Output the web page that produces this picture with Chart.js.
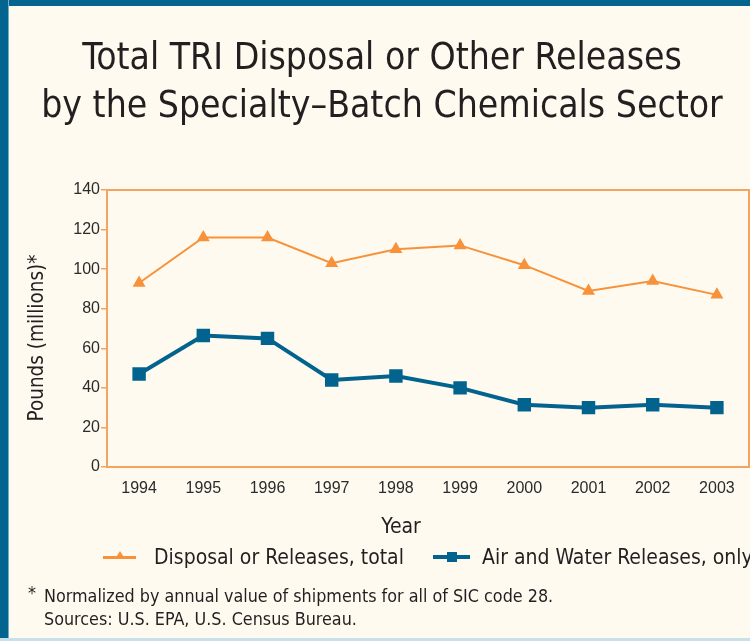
<!DOCTYPE html>
<html>
<head>
<meta charset="utf-8">
<script src="https://cdn.jsdelivr.net/npm/chart.js@4.4.1/dist/chart.umd.min.js"></script>
<style>
  html, body { margin: 0; padding: 0; }
  body { width: 750px; height: 641px; position: relative; overflow: hidden; background: #fefaef; }
  #chart { position: absolute; left: 0; top: 0; }
  .narrow { font-family: "Liberation Sans Narrow", "DejaVu Sans Condensed", sans-serif; color: #231f20; position: absolute; white-space: nowrap; }
  #title { left: 8px; width: 748px; top: 33px; text-align: center; font-size: 37px; line-height: 48px; }
  #ytitle { left: 36px; top: 338px; font-size: 20.5px; transform: translate(-50%, -50%) rotate(-90deg); }
  #xtitle { left: 401px; top: 526px; font-size: 21px; transform: translate(-50%, -50%); }
  #legend { top: 544px; left: 103px; font-size: 21px; line-height: 26px; }
  .item { position: absolute; top: 0; }
  .sw { position: absolute; top: 13px; }
  .sw .ln { position: absolute; }
  .note { left: 44px; font-size: 17.8px; }
  .border-top { position: absolute; left: 0; top: 0; width: 750px; height: 6px; background: #03648f; }
  .border-left { position: absolute; left: 0; top: 0; width: 8px; height: 641px; background: #03648f; border-right: 1px solid #6fb0c8; }
  .border-bottom { position: absolute; left: 0; top: 638px; width: 750px; height: 3px; background: #c6e2e8; }
</style>
</head>
<body>
<div class="border-top"></div>
<div class="border-left"></div>
<div class="border-bottom"></div>
<canvas id="chart" width="750" height="641"></canvas>
<div id="title" class="narrow">Total TRI Disposal or Other Releases<br>by the Specialty–Batch Chemicals Sector</div>
<div id="ytitle" class="narrow">Pounds (millions)*</div>
<div id="xtitle" class="narrow">Year</div>
<div id="legend" class="narrow"></div>
<div class="narrow note" style="top: 582px; left: 28px;">*</div>
<div class="narrow note" style="top: 585px;">Normalized by annual value of shipments for all of SIC code 28.</div>
<div class="narrow note" style="top: 608px;">Sources: U.S. EPA, U.S. Census Bureau.</div>

<script>
const years = ["1994", "1995", "1996", "1997", "1998", "1999", "2000", "2001", "2002", "2003"];
const totalReleases = [93, 116, 116, 103, 110, 112, 102, 89, 94, 87];
const airWaterReleases = [47, 66.5, 65, 44, 46, 40, 31.5, 30, 31.5, 30];
const yTicks = [0, 20, 40, 60, 80, 100, 120, 140];

const ORANGE = "#f7923a";
const BLUE = "#02648e";
const FRAME = "#f5a45e";

// legend in html, line + marker like the original
const legendItems = [
    { label: "Disposal or Releases, total", color: ORANGE, marker: "tri", x: 0, lineW: 33, thick: 3, gap: 18 },
    { label: "Air and Water Releases, only", color: BLUE, marker: "sq", x: 330, lineW: 37, thick: 4, gap: 12 }
];
const legendEl = document.getElementById("legend");
legendItems.forEach(it => {
    const d = document.createElement("div");
    d.className = "item";
    d.style.left = it.x + "px";
    let mk;
    if (it.marker === "tri") {
        mk = `<span style="position:absolute;left:${it.lineW / 2 - 5}px;top:-6px;width:0;height:0;border-left:5px solid transparent;border-right:5px solid transparent;border-bottom:8px solid ${it.color};"></span>`;
    } else {
        mk = `<span style="position:absolute;left:${it.lineW / 2 - 5}px;top:-5px;width:10px;height:10px;background:${it.color};"></span>`;
    }
    d.innerHTML = `<span class="sw"><span class="ln" style="width:${it.lineW}px;height:${it.thick}px;top:${-it.thick / 2}px;background:${it.color};"></span>${mk}</span>` +
        `<span style="position:absolute;left:${it.lineW + it.gap}px;top:0;">${it.label}</span>`;
    legendEl.appendChild(d);
});

// orange box round the plot area
const plotFrame = {
    id: "plotFrame",
    beforeDatasetsDraw(chart) {
        const { ctx, chartArea: a } = chart;
        ctx.save();
        ctx.strokeStyle = FRAME;
        ctx.lineWidth = 2;
        ctx.strokeRect(a.left, a.top, a.right - a.left, a.bottom - a.top);
        ctx.restore();
    }
};

const ctx = document.getElementById("chart").getContext("2d");

new Chart(ctx, {
    type: "line",
    data: {
        labels: years,
        datasets: [
            {
                label: "Disposal or Releases, total",
                data: totalReleases,
                borderColor: ORANGE,
                borderWidth: 2,
                pointStyle: "triangle",
                pointRadius: 7.5,
                pointBackgroundColor: ORANGE,
                pointBorderWidth: 0,
                tension: 0
            },
            {
                label: "Air and Water Releases, only",
                data: airWaterReleases,
                borderColor: BLUE,
                borderWidth: 4,
                pointStyle: "rect",
                pointRadius: 9.5,
                pointBackgroundColor: BLUE,
                pointBorderWidth: 0,
                tension: 0
            }
        ]
    },
    options: {
        responsive: false,
        animation: false,
        devicePixelRatio: 1,
        layout: {
            autoPadding: false,
            padding: { top: 190, right: 1, bottom: 0, left: 0 }
        },
        plugins: {
            legend: { display: false },
            tooltip: { enabled: false }
        },
        scales: {
            x: {
                offset: true,
                grid: { display: false, drawTicks: false },
                border: { display: false },
                ticks: {
                    color: "#2b2b2b",
                    padding: 12,
                    maxRotation: 0,
                    font: { family: "Liberation Sans", size: 16 }
                },
                afterFit(scale) {
                    scale.height = 641 - 467;
                    scale.paddingLeft = 0;
                    scale.paddingRight = 0;
                }
            },
            y: {
                min: 0,
                max: 140,
                grid: {
                    drawOnChartArea: false,
                    color: FRAME,
                    tickLength: 6,
                    lineWidth: 1.5
                },
                border: { display: false },
                afterBuildTicks(scale) { scale.ticks = yTicks.map(v => ({ value: v })); },
                ticks: {
                    color: "#2b2b2b",
                    padding: 1,
                    font: { family: "Liberation Sans", size: 16 }
                },
                afterFit(scale) { scale.width = 107; }
            }
        }
    },
    plugins: [plotFrame]
});
</script>
</body>
</html>
